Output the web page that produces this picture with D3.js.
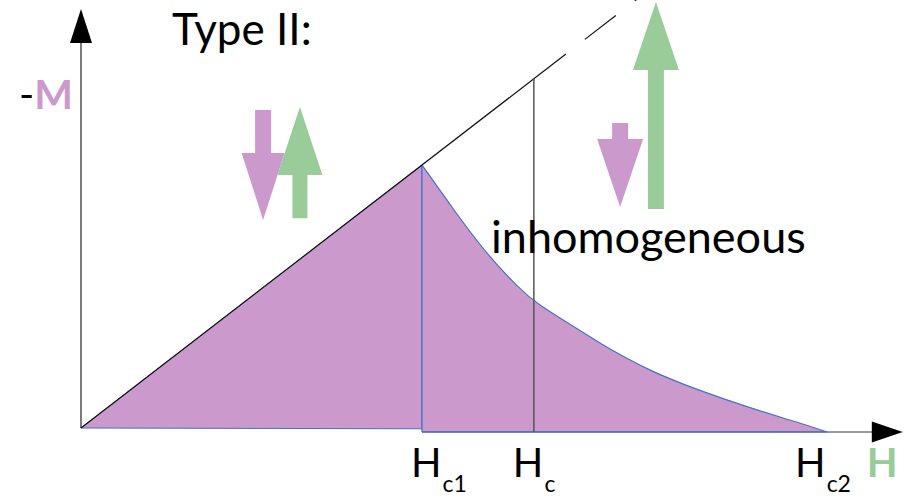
<!DOCTYPE html>
<html>
<head>
<meta charset="utf-8">
<script src="https://cdn.jsdelivr.net/npm/d3@7"></script>
<style>
  body { margin: 0; background: #fff; }
  svg { display: block; font-family: Lato, "Open Sans", sans-serif; }
</style>
</head>
<body>
<svg id="chart" width="908" height="497"></svg>
<script>
// field values in units of Hc1, magnetisation in units of -M(Hc1)
const hCritical = [1, 1.328, 2.188];           // Hc1, Hc, Hc2
const critLabels = ["c1", "c", "c2"];
const hCurve = [1, 1.091, 1.191, 1.287, 1.328, 1.484, 1.522, 1.581, 1.669, 1.815, 1.962, 2.109, 2.188];
const mCurve = [1, 0.833, 0.658, 0.529, 0.479, 0.354, 0.323, 0.278, 0.217, 0.141, 0.076, 0.019, -0.015];
const hMeissner = [0, 1, 1];
const mMeissner = [0, 1, -0.003];
const hAxisMax = 2.41, mAxisMax = 1.593, mBase = -0.015;
const solidEnd = 1.422, lineEnd = 1.75;

// arrows: centre H, start M, head-start M, tip M, shaft / head width (px)
const arrows = [
  { h: 0.534, m0: 1.209, mh: 1.046, m1: 0.791, sw: 16, hw: 43, color: "#cc99cc" },
  { h: 0.642, m0: 0.798, mh: 0.962, m1: 1.221, sw: 15, hw: 45, color: "#99cc99" },
  { h: 1.581, m0: 1.160, mh: 1.099, m1: 0.840, sw: 16, hw: 46, color: "#cc99cc" },
  { h: 1.686, m0: 0.833, mh: 1.361, m1: 1.620, sw: 16, hw: 46, color: "#99cc99" }
];

const svg = d3.select("#chart");
const x = d3.scaleLinear().domain([0, 1]).range([81, 422]);
const y = d3.scaleLinear().domain([0, 1]).range([428, 165]);

const pink = "#cc99cc", green = "#99cc99", blue = "#4472c4";

// shaded areas
svg.append("path")
  .attr("d", d3.line()(hMeissner.map((h, i) => [x(h), y(mMeissner[i])])) + "Z")
  .attr("fill", pink).attr("stroke", blue).attr("stroke-width", 1);

const curve = d3.line().x(d => x(d[0])).y(d => y(d[1])).curve(d3.curveBasis);
const pts = hCurve.map((h, i) => [h, mCurve[i]]);
svg.append("path")
  .attr("d", curve(pts) + `L${x(hCritical[0])},${y(mBase)}Z`)
  .attr("fill", pink).attr("stroke", "none");
svg.append("path")
  .attr("d", curve(pts))
  .attr("fill", "none").attr("stroke", blue).attr("stroke-width", 1.2);

// axes
svg.append("line")
  .attr("x1", x(hCritical[0])).attr("x2", x(hAxisMax) - 30)
  .attr("y1", y(mBase)).attr("y2", y(mBase))
  .attr("stroke", "#777").attr("stroke-width", 1.5);
svg.append("path")
  .attr("d", `M${x(hAxisMax)},${y(mBase)}L${x(hAxisMax) - 31},${y(mBase) - 10.5}L${x(hAxisMax) - 31},${y(mBase) + 10.5}Z`)
  .attr("fill", "#000");
svg.append("line")
  .attr("x1", x(0)).attr("x2", x(0))
  .attr("y1", y(0)).attr("y2", y(mAxisMax) + 30)
  .attr("stroke", "#444").attr("stroke-width", 1.4);
svg.append("path")
  .attr("d", `M${x(0)},${y(mAxisMax)}L${x(0) - 11},${y(mAxisMax) + 34}L${x(0) + 11},${y(mAxisMax) + 34}Z`)
  .attr("fill", "#000");

// bottom edge of the mixed region and Hc1 line
svg.append("line")
  .attr("x1", x(hCritical[0])).attr("x2", x(hCritical[2]))
  .attr("y1", y(mBase)).attr("y2", y(mBase))
  .attr("stroke", blue).attr("stroke-width", 1.2);
svg.append("line")
  .attr("x1", x(hCritical[0])).attr("x2", x(hCritical[0]))
  .attr("y1", y(1)).attr("y2", y(mBase))
  .attr("stroke", blue).attr("stroke-width", 1.2);

// -M = H line
svg.append("line")
  .attr("x1", x(0)).attr("y1", y(0))
  .attr("x2", x(solidEnd)).attr("y2", y(solidEnd))
  .attr("stroke", "#111").attr("stroke-width", 1.2);
svg.append("line")
  .attr("x1", x(solidEnd)).attr("y1", y(solidEnd))
  .attr("x2", x(lineEnd)).attr("y2", y(lineEnd))
  .attr("stroke", "#111").attr("stroke-width", 1.2)
  .attr("stroke-dasharray", "39 24").attr("stroke-dashoffset", 39);

// Hc line
svg.append("line")
  .attr("x1", x(hCritical[1])).attr("x2", x(hCritical[1]))
  .attr("y1", y(hCritical[1])).attr("y2", y(mBase))
  .attr("stroke", "#555").attr("stroke-width", 1.5);

// arrows
arrows.forEach(a => {
  const cx = x(a.h), y0 = y(a.m0), yh = y(a.mh), y1 = y(a.m1);
  const s = a.sw / 2, w = a.hw / 2;
  svg.append("path")
    .attr("d", `M${cx - s},${y0}L${cx + s},${y0}L${cx + s},${yh}L${cx + w},${yh}L${cx},${y1}L${cx - w},${yh}L${cx - s},${yh}Z`)
    .attr("fill", a.color);
});

// texts
svg.append("text").attr("x", 172).attr("y", 45)
  .attr("font-size", 44).attr("fill", "#000").text("Type II:");

const mLab = svg.append("text").attr("x", 19).attr("y", 109).attr("font-size", 41);
mLab.append("tspan").attr("fill", "#000").text("-");
mLab.append("tspan").attr("fill", pink).attr("font-weight", "bold").text("M");

svg.append("text").attr("x", 491).attr("y", 253)
  .attr("font-size", 45).attr("fill", "#000").text("inhomogeneous");

const labDx = [-11, -21, -32];
hCritical.forEach((h, i) => {
  const t = svg.append("text").attr("x", x(h) + labDx[i]).attr("y", 477).attr("font-size", 40).attr("fill", "#000");
  t.append("tspan").text("H");
  t.append("tspan").attr("font-size", 23).attr("dx", 1).attr("dy", 15).text(critLabels[i]);
});

svg.append("text").attr("x", x(hAxisMax) - 36).attr("y", 477)
  .attr("font-size", 40).attr("font-weight", "bold").attr("fill", green).text("H");
</script>
</body>
</html>
